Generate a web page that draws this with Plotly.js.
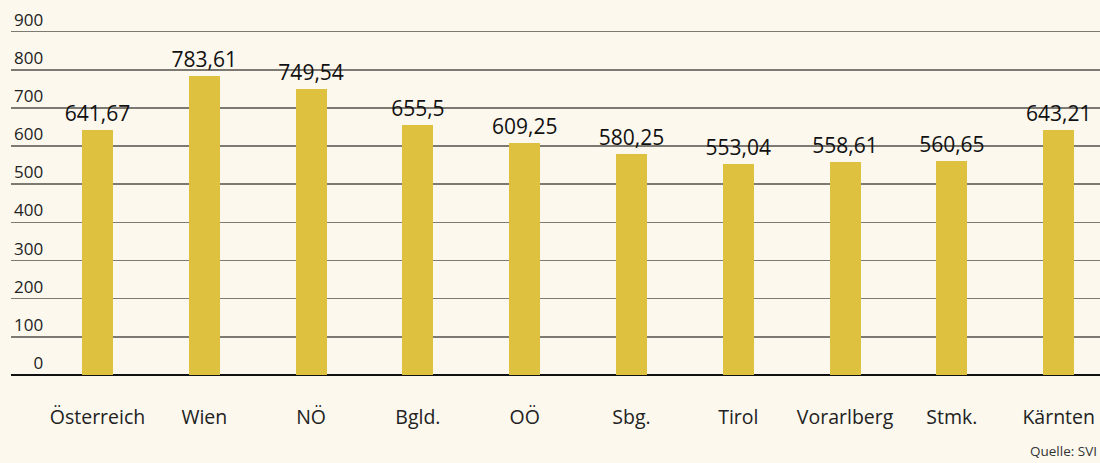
<!DOCTYPE html>
<html>
<head>
<meta charset="utf-8">
<script src="https://cdn.plot.ly/plotly-3.0.1.min.js"></script>
<style>
  body { margin: 0; background: #fcf8ee; }
  #plot { width: 1100px; height: 463px; }
</style>
</head>
<body>
<div id="plot"></div>
<script>
// Bundesländer und Werte
var regions = ["Österreich", "Wien", "NÖ", "Bgld.", "OÖ", "Sbg.", "Tirol", "Vorarlberg", "Stmk.", "Kärnten"];
var values = [641.67, 783.61, 749.54, 655.5, 609.25, 580.25, 553.04, 558.61, 560.65, 643.21];
var yTicks = [0, 100, 200, 300, 400, 500, 600, 700, 800, 900];
var yTickText = ["\u2007\u20070", "100", "200", "300", "400", "500", "600", "700", "800", "900"];

var trace1 = {
    x: regions,
    y: values,
    text: values.map(v => String(v).replace(".", ",")),
    type: "bar",
    width: 0.29,
    marker: { color: "#dec13f" },
    textposition: "outside",
    constraintext: "none",
    cliponaxis: false,
    textfont: { family: "Open Sans", size: 21, color: "#111" },
    hoverinfo: "none"
};

var layout = {
    width: 1100,
    height: 463,
    paper_bgcolor: "#fcf8ee",
    plot_bgcolor: "#fcf8ee",
    showlegend: false,
    margin: { l: 11, r: 0, t: 3, b: 88 },
    bargap: 0,
    xaxis: {
        type: "category",
        range: [-0.81, 9.387],
        showgrid: false,
        showline: false,
        zeroline: false,
        ticks: "outside",
        ticklen: 25,
        tickcolor: "rgba(0,0,0,0)",
        tickfont: { family: "Open Sans", size: 19.5, color: "#222" }
    },
    yaxis: {
        range: [0, 975],
        tickvals: yTicks,
        ticktext: yTickText,
        ticklabelposition: "inside top",
        tickfont: { family: "Open Sans", size: 17, color: "#222" },
        showgrid: true,
        gridcolor: "#7d7a73",
        gridwidth: 1.5,
        zeroline: true,
        zerolinecolor: "#111",
        zerolinewidth: 2,
        showline: false
    },
    annotations: [{
        text: "Quelle: SVI",
        xref: "paper", yref: "paper",
        x: 0.934, y: -0.235,
        xanchor: "left", yanchor: "bottom",
        showarrow: false,
        font: { family: "Open Sans", size: 13.5, color: "#333" }
    }]
};

Plotly.newPlot("plot", [trace1], layout, { displayModeBar: false, staticPlot: true });
</script>
</body>
</html>
